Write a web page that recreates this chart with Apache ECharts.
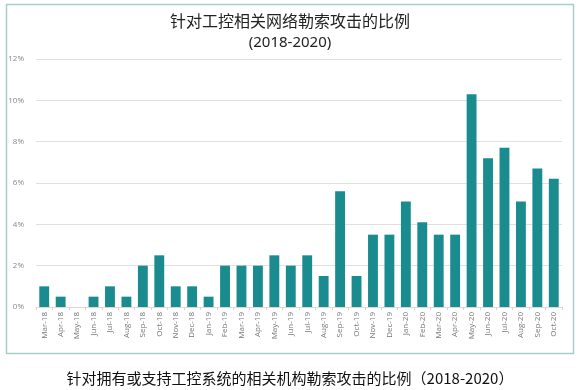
<!DOCTYPE html>
<html>
<head>
<meta charset="utf-8">
<script src="https://cdn.jsdelivr.net/npm/echarts@6/dist/echarts.min.js"></script>
<style>
html,body{margin:0;padding:0;background:#fff;}
#chart{width:580px;height:390px;}
</style>
</head>
<body>
<div id="chart"></div>
<script>
var categories = ["Mar-18","Apr-18","May-18","Jun-18","Jul-18","Aug-18","Sep-18","Oct-18","Nov-18","Dec-18","Jan-19","Feb-19","Mar-19","Apr-19","May-19","Jun-19","Jul-19","Aug-19","Sep-19","Oct-19","Nov-19","Dec-19","Jan-20","Feb-20","Mar-20","Apr-20","May-20","Jun-20","Jul-20","Aug-20","Sep-20","Oct-20"];
var values = [1.0,0.5,0,0.5,1.0,0.5,2.0,2.5,1.0,1.0,0.5,2.0,2.0,2.0,2.5,2.0,2.5,1.5,5.6,1.5,3.5,3.5,5.1,4.1,3.5,3.5,10.3,7.2,7.7,5.1,6.7,6.2];
var yTicks = [0,2,4,6,8,10,12];
var titleText = "针对工控相关网络勒索攻击的比例";
var subtitleText = "(2018-2020)";
var captionText = "针对拥有或支持工控系统的相关机构勒索攻击的比例（2018-2020）";

var chart = echarts.init(document.getElementById('chart'), null, {renderer:'canvas'});
chart.setOption({
  backgroundColor:'#fff',
  animation:false,
  title:[
    {text:titleText, left:'center', top:8, textStyle:{fontFamily:'Noto Sans CJK SC', fontSize:16, fontWeight:'normal', color:'#222'}},
    {text:subtitleText, left:'center', top:30, textStyle:{fontFamily:'Noto Sans', fontSize:15, fontWeight:'normal', color:'#222'}},
    {text:captionText, left:'center', top:366, textStyle:{fontFamily:'Noto Sans CJK SC', fontSize:15, fontWeight:'normal', color:'#111'}}
  ],
  graphic:[
    {type:'rect', shape:{x:6.5,y:4.5,width:567,height:349}, style:{fill:null, stroke:'#a9cdca', lineWidth:1.5}, silent:true, z:-1}
  ],
  grid:{left:36, right:18, top:59, bottom:83, containLabel:false},
  xAxis:{
    type:'category', data:categories,
    axisLine:{lineStyle:{color:'#d9d9d9'}},
    axisTick:{show:true, lineStyle:{color:'#f0c8c8'}, length:3},
    axisLabel:{rotate:90, fontSize:8, color:'#777', fontFamily:'Open Sans', margin:5, interval:0}
  },
  yAxis:{
    type:'value', min:0, max:12, interval:2,
    axisLine:{show:false}, axisTick:{show:false},
    splitLine:{lineStyle:{color:'#e0e0e0'}},
    axisLabel:{formatter:function(v){return yTicks.indexOf(v)>=0? v+'%':'';}, fontSize:8, color:'#888', fontFamily:'Open Sans', margin:12}
  },
  series:[{
    type:'bar', data:values, barCategoryGap:'40%',
    itemStyle:{color:'#1a8b8f'}
  }]
});
</script>
</body>
</html>
